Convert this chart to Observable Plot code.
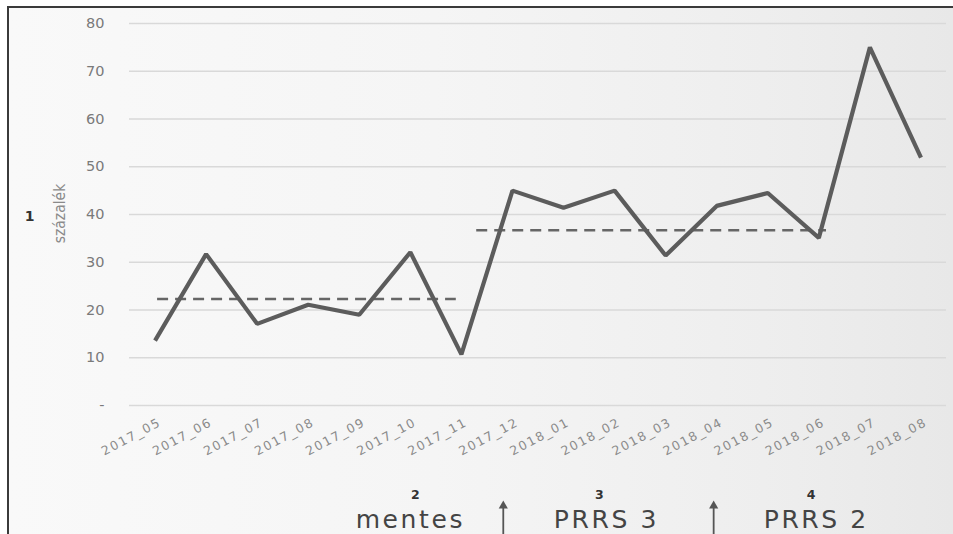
<!DOCTYPE html>
<html>
<head>
<meta charset="utf-8">
<script src="https://cdn.jsdelivr.net/npm/d3@7"></script>
<script src="https://cdn.jsdelivr.net/npm/@observablehq/plot@0.6"></script>
<style>
  html, body { margin: 0; padding: 0; background: #fff; }
  #wrap { position: relative; width: 953px; height: 534px; overflow: hidden; }
  #panel { position: absolute; left: 7px; top: 6px; right: 0; bottom: 0;
    border-left: 2px solid #3a3a3a; border-top: 2px solid #3a3a3a;
    background: linear-gradient(to right, #f9f9f9 0%, #f5f5f5 45%, #eeeeee 80%, #e8e8e8 100%); }
  #chart { position: absolute; left: 0; top: 0; }
</style>
</head>
<body>
<div id="wrap"><div id="panel"></div><div id="chart"></div></div>
<script>
const months = ["2017_05","2017_06","2017_07","2017_08","2017_09","2017_10","2017_11","2017_12",
                "2018_01","2018_02","2018_03","2018_04","2018_05","2018_06","2018_07","2018_08"];
const values = [13.6, 31.7, 17.1, 21.1, 19.0, 32.1, 10.7, 45.0, 41.4, 45.0, 31.4, 41.8, 44.5, 35.1, 75.0, 51.9];
const meanValues = [22.3, 36.7];
const meanStart = [0.05, 6.3];
const meanEnd = [5.9, 13.15];
const yTicks = [0, 10, 20, 30, 40, 50, 60, 70, 80];
const periodNumbers = ["2", "3", "4"];
const periodLabels = ["mentes", "PRRS 3", "PRRS 2"];
const periodCenters = [5.0, 8.84, 12.95];
const numberCenters = [5.1, 8.7, 12.85];
const changeArrows = [6.82, 10.94];
const yLabel = "százalék";
const sideNumber = "1";

const font = "'DejaVu Sans', sans-serif";

const plot = Plot.plot({
  width: 953,
  height: 534,
  marginLeft: 129,
  marginRight: 7,
  marginTop: 23,
  marginBottom: 129,
  style: { background: "transparent", fontFamily: font, overflow: "visible" },
  x: { domain: [-0.5, 15.5], axis: null },
  y: { domain: [0, 80], axis: null },
  marks: [
    Plot.ruleY(yTicks, { stroke: "#d9d9d9", strokeWidth: 1.5 }),
    Plot.axisY(yTicks, {
      tickSize: 0, tickPadding: 25, fontSize: 14.5, fill: "#7a7a7a",
      tickFormat: d => d === 0 ? "-" : String(d), label: null
    }),
    Plot.text(months, {
      x: (d, i) => i, y: () => 0, dx: 5, dy: 16, rotate: -28, textAnchor: "end",
      fontSize: 12.5, fill: "#8a8a8a", className: "xlab"
    }),
    Plot.ruleY(meanValues, {
      y: d => d, x1: (d, i) => meanStart[i], x2: (d, i) => meanEnd[i],
      stroke: "#666", strokeWidth: 2.5, strokeDasharray: "11,7"
    }),
    Plot.line(values, {
      x: (d, i) => i, y: d => d, stroke: "#5c5c5c", strokeWidth: 4.2,
      strokeLinejoin: "miter", strokeLinecap: "butt"
    }),
    Plot.text([yLabel], {
      frameAnchor: "left", dx: -69, y: [40.2], rotate: -90, textAnchor: "middle",
      fontSize: 15.5, fill: "#8a8a8a", fontFamily: "'Liberation Sans Narrow', 'DejaVu Sans Condensed', sans-serif"
    }),
    Plot.text([sideNumber], {
      frameAnchor: "left", dx: -100, y: [39.6], textAnchor: "middle",
      fontSize: 14, fontWeight: "bold", fill: "#333"
    }),
    Plot.text(periodNumbers, {
      x: (d, i) => numberCenters[i], y: () => -18.8,
      fontSize: 12.5, fontWeight: "bold", fill: "#333"
    }),
    Plot.text(periodLabels, {
      x: (d, i) => periodCenters[i], y: () => -25.6, lineAnchor: "bottom",
      fontSize: 25, fill: "#444", fontFamily: "'DejaVu Sans', sans-serif",
      className: "period"
    }),
    Plot.ruleX(changeArrows, { x: d => d, y1: -27.5, y2: -21.3, stroke: "#555", strokeWidth: 1.8 }),
    Plot.dot(changeArrows, { x: d => d, y: () => -21.0, symbol: "triangle", r: 3.4, fill: "#555", stroke: "none" })
  ]
});
d3.select(plot).selectAll("g.period text").style("letter-spacing", "2.6px");
d3.select(plot).selectAll("g.xlab text").style("letter-spacing", "1.6px");
document.getElementById("chart").appendChild(plot);
</script>
</body>
</html>
